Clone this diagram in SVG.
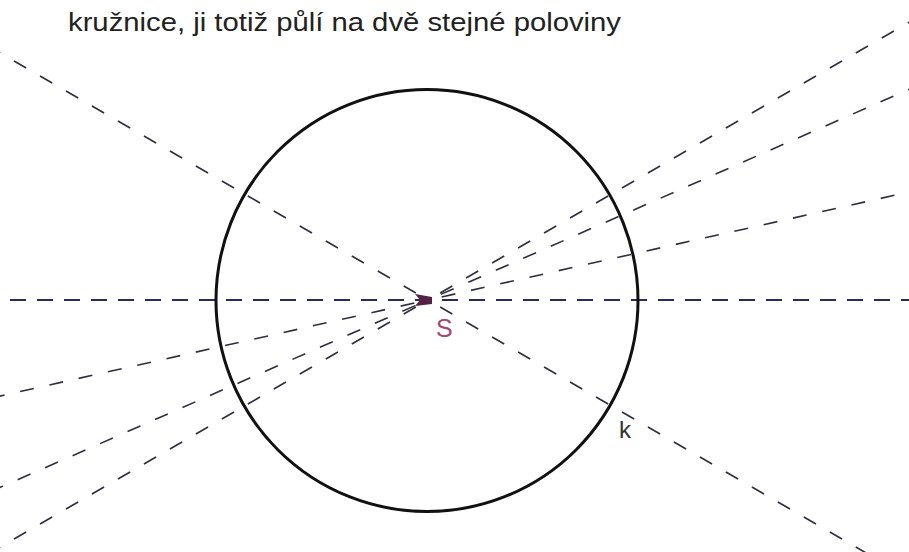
<svg xmlns="http://www.w3.org/2000/svg" width="909" height="552" viewBox="0 0 909 552">
<style>
.txt{font-family:"Liberation Sans",Arial,sans-serif;}
.hline{stroke:#2a2a62;stroke-width:2;fill:none;stroke-dasharray:16 11;stroke-dashoffset:17;}
.dline{stroke:#2e2e3e;stroke-width:1.6;fill:none;stroke-dasharray:14 16;}
</style>
<rect width="909" height="552" fill="#ffffff"/>
<text class="txt" x="68" y="31" font-size="25" fill="#222" textLength="553" lengthAdjust="spacingAndGlyphs">kružnice, ji totiž půlí na dvě stejné poloviny</text>
<g id="connectors">
<line class="hline" x1="0" y1="300" x2="909" y2="300"/>
<g transform="translate(428,300)">
<g transform="rotate(30)">
<line class="dline" x1="14" y1="0" x2="1000" y2="0"/>
<line class="dline" x1="-14" y1="0" x2="-1000" y2="0"/>
</g>
<g transform="rotate(-30)">
<line class="dline" x1="14" y1="0" x2="1000" y2="0"/>
<line class="dline" x1="-14" y1="0" x2="-1000" y2="0"/>
</g>
<g transform="rotate(-23.65)">
<line class="dline" x1="14" y1="0" x2="1000" y2="0"/>
<line class="dline" x1="-14" y1="0" x2="-1000" y2="0"/>
</g>
<g transform="rotate(-12.65)">
<line class="dline" x1="14" y1="0" x2="1000" y2="0"/>
<line class="dline" x1="-14" y1="0" x2="-1000" y2="0"/>
</g>
</g>
</g>
<g id="circle-k">
<circle cx="427" cy="300.5" r="211" fill="none" stroke="#111" stroke-width="3"/>
<text class="txt" x="619" y="438" font-size="24" fill="#333">k</text>
</g>
<g id="center-S">
<polygon points="415,294 432,297 432,304 415,306 420,300" fill="#552244"/>
<text class="txt" x="436" y="337" font-size="25" fill="#a04a72">S</text>
</g>
</svg>
